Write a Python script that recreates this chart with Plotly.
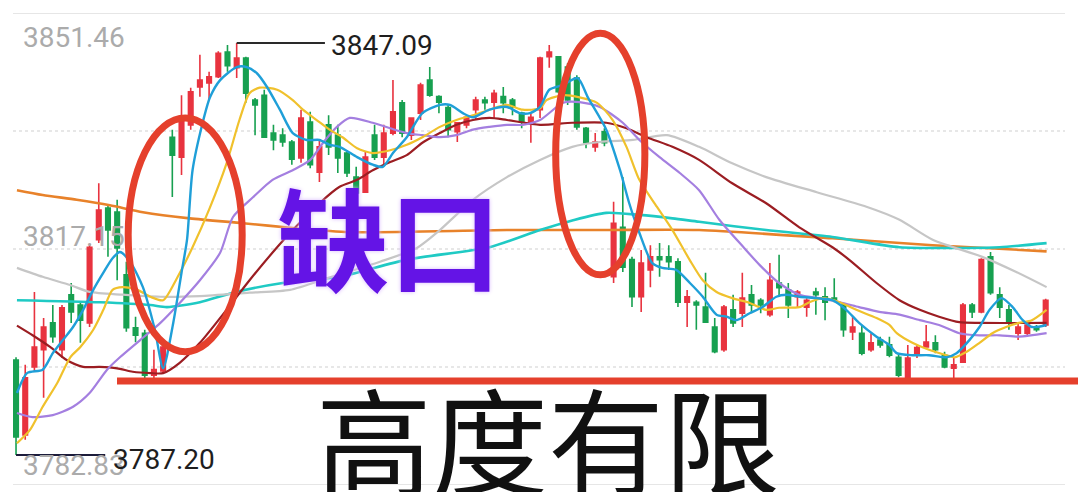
import plotly.graph_objects as go

# ---------------- data ----------------
idx = list(range(113))
opens = [3801.0,3790.1,3800.0,3802.5,3806.4,3802.5,3810.5,3809.0,3806.4,3818.5,
         3823.1,3822.5,3813.4,3805.7,3804.9,3798.8,3799.4,3833.4,3830.5,3835.2,
         3840.7,3841.3,3842.2,3845.8,3843.5,3844.9,3838.8,3839.5,3834.0,3833.7,
         3832.7,3830.4,3835.6,3828.3,3835.2,3833.7,3831.1,3827.6,3825.4,3833.7,
         3830.5,3834.0,3838.4,3833.7,3836.9,3841.7,3839.3,3837.7,3834.2,3835.2,
         3837.4,3838.8,3838.5,3839.3,3838.8,3836.9,3835.6,3837.4,3845.1,3845.1,
         3843.6,3842.0,3834.7,3832.0,3834.2,3813.1,3820.3,3815.6,3810.2,3814.1,
         3816.0,3816.0,3815.3,3809.4,3809.4,3808.7,3805.8,3802.5,3808.3,3807.8,
         3810.5,3809.7,3807.6,3812.2,3811.2,3810.2,3808.7,3810.9,3810.2,3810.0,
         3809.0,3805.1,3804.9,3802.5,3803.9,3803.2,3801.4,3798.5,3801.7,3802.9,
         3803.5,3801.7,3799.8,3800.7,3809.0,3808.0,3816.0,3810.5,3808.3,3804.9,
         3804.9,3805.8,3806.1]
closes = [3789.8,3798.4,3802.9,3805.8,3804.4,3808.6,3808.0,3806.8,3817.4,3822.8,
          3819.9,3817.3,3805.7,3804.6,3798.8,3799.6,3802.9,3830.8,3835.9,3840.0,
          3841.7,3842.2,3845.6,3843.8,3844.9,3839.8,3838.1,3833.4,3833.0,3832.7,
          3830.2,3836.2,3829.4,3832.0,3832.0,3830.4,3828.2,3825.3,3830.5,3830.5,
          3834.0,3837.1,3834.0,3836.2,3841.0,3839.5,3838.5,3834.5,3835.5,3836.3,
          3838.8,3838.4,3839.8,3838.4,3837.8,3835.6,3836.3,3844.9,3845.8,3840.0,
          3838.8,3834.9,3832.6,3832.7,3832.6,3820.9,3814.5,3810.2,3815.1,3816.0,
          3815.6,3815.3,3809.4,3810.2,3809.0,3806.5,3802.2,3808.7,3806.4,3810.0,
          3809.0,3809.0,3812.6,3811.5,3809.0,3810.9,3809.7,3810.5,3809.4,3809.7,
          3805.4,3805.8,3802.0,3803.5,3803.2,3801.7,3798.8,3801.3,3802.8,3803.6,
          3802.5,3800.0,3800.3,3809.0,3808.0,3815.6,3810.8,3808.7,3806.5,3805.8,
          3806.1,3805.4,3809.7]
highs = [3801.4,3800.3,3810.9,3807.1,3809.0,3809.0,3812.2,3809.4,3817.9,3826.7,
         3823.5,3824.3,3815.3,3807.3,3805.4,3802.5,3803.5,3834.5,3839.5,3840.6,
         3845.4,3842.9,3845.9,3846.8,3847.09,3845.1,3839.1,3840.3,3835.2,3834.7,
         3833.0,3837.4,3837.1,3833.1,3836.6,3835.2,3831.5,3829.1,3831.3,3835.2,
         3835.2,3841.7,3838.8,3836.3,3841.3,3843.6,3839.5,3838.1,3835.6,3836.6,
         3839.3,3839.3,3840.3,3840.7,3839.1,3837.1,3836.9,3845.1,3846.8,3845.1,
         3844.2,3842.4,3834.9,3834.0,3834.7,3824.0,3827.6,3816.0,3817.0,3817.7,
         3818.0,3817.7,3815.8,3811.2,3809.7,3813.7,3807.1,3809.0,3810.5,3813.7,
         3811.9,3810.0,3815.1,3816.3,3812.2,3811.2,3810.0,3811.5,3811.6,3812.9,
         3809.3,3807.3,3806.1,3804.9,3804.4,3804.4,3802.0,3803.2,3803.2,3806.1,
         3804.6,3802.2,3801.4,3809.3,3809.3,3815.8,3816.7,3811.6,3809.0,3806.4,
         3806.4,3806.1,3809.9]
lows = [3787.2,3789.4,3799.3,3795.5,3803.5,3801.3,3806.4,3803.5,3805.8,3818.0,
        3816.0,3812.6,3805.1,3803.6,3798.1,3798.4,3799.0,3824.7,3827.9,3834.5,
        3839.3,3838.8,3842.0,3842.9,3842.0,3838.4,3833.7,3833.3,3831.5,3832.0,
        3829.4,3829.7,3828.9,3826.9,3830.8,3828.2,3827.6,3824.3,3825.3,3830.1,
        3829.1,3833.7,3833.4,3833.0,3835.9,3839.3,3836.9,3833.4,3832.7,3834.7,
        3835.9,3837.4,3836.2,3836.9,3836.6,3834.7,3832.6,3836.2,3843.5,3839.8,
        3838.1,3834.5,3831.8,3831.3,3832.1,3812.2,3813.8,3808.7,3808.0,3811.6,
        3813.1,3814.1,3808.7,3805.8,3805.4,3806.4,3802.0,3802.2,3805.8,3805.8,
        3807.8,3807.8,3807.3,3810.2,3807.1,3808.7,3807.3,3807.6,3806.8,3809.4,
        3804.4,3803.9,3801.7,3802.2,3802.8,3801.4,3798.5,3798.1,3801.3,3802.8,
        3802.0,3799.8,3798.1,3800.6,3807.1,3807.8,3810.5,3807.1,3805.4,3803.9,
        3804.4,3805.1,3805.8]

ma5_x = [0.1,1.2,2.9,4.0,5.1,6.2,7.3,8.4,9.5,10.5,11.3,12.4,13.8,15.1,16.0,17.1,18.0,18.6,19.2,20.3,
         21.1,22.2,24.0,25.1,26.2,27.3,28.7,30.1,31.6,33.0,34.1,35.2,37.1,38.8,39.9,41.0,42.5,44.2,46.1,47.2,
         48.6,49.7,51.5,53.4,54.8,55.9,57.0,58.0,59.5,61.1,62.2,64.2,65.7,66.7,67.8,69.2,70.3,71.8,73.3,74.7,
         76.2,77.3,78.4,79.8,81.2,82.7,83.8,85.2,87.1,88.8,90.3,91.7,93.6,95.0,95.8,97.5,99.3,101.2,102.3,103.7,
         104.8,105.9,107.2,108.4,109.5,110.5,112.1]
ma5_y = [3796.2,3799.1,3799.6,3802.0,3803.9,3805.8,3808.3,3811.2,3813.7,3815.8,3816.7,3815.3,3811.6,3805.4,3799.8,3806.4,3813.7,3818.5,3828.6,3835.5,
         3839.2,3841.7,3843.6,3843.6,3842.7,3840.7,3837.4,3834.0,3833.0,3833.0,3832.3,3832.0,3830.5,3829.4,3829.1,3831.1,3833.4,3836.9,3838.1,3838.1,
         3836.9,3836.3,3837.4,3837.8,3836.9,3836.9,3837.8,3840.3,3841.0,3842.0,3839.2,3834.5,3828.6,3823.8,3819.5,3815.1,3814.4,3814.1,3812.2,3810.2,
         3807.6,3807.3,3806.8,3807.8,3808.7,3810.2,3810.5,3810.2,3810.0,3809.7,3808.3,3806.4,3804.4,3803.2,3802.0,3801.7,3801.7,3801.4,3802.0,3803.9,
         3805.8,3808.3,3810.0,3808.7,3806.8,3805.8,3806.1]

ma10_x = [0.1,1.5,2.9,4.5,5.9,7.0,8.4,9.5,10.5,11.6,13.2,14.6,16.0,17.5,19.2,21.1,22.9,24.3,25.4,26.5,
          28.4,30.1,31.2,32.7,34.1,35.5,37.1,38.8,40.7,42.5,44.2,46.1,47.9,49.7,51.5,53.4,55.1,57.0,57.7,59.5,
          61.3,63.2,64.9,66.4,67.8,69.7,71.4,73.3,74.7,76.2,77.9,79.8,81.6,83.0,85.2,86.3,87.7,89.6,91.4,93.6,
          95.0,95.8,97.5,99.3,101.2,102.1,103.4,104.8,106.2,107.7,109.1,110.5,112.1]
ma10_y = [3788.9,3790.8,3794.2,3797.7,3801.4,3802.9,3805.4,3808.3,3811.2,3811.6,3811.2,3810.2,3809.7,3812.9,3817.4,3823.2,3829.6,3835.9,3839.8,3840.6,
          3840.3,3838.8,3837.4,3835.9,3834.5,3833.4,3831.8,3831.1,3831.5,3832.3,3833.4,3834.9,3835.9,3836.6,3837.4,3838.1,3837.4,3837.6,3838.8,3839.5,
          3839.2,3838.4,3835.9,3832.0,3827.2,3823.3,3819.9,3815.5,3812.6,3810.9,3810.0,3809.3,3808.3,3808.6,3808.7,3809.4,3810.0,3809.4,3808.3,3807.1,
          3806.1,3804.9,3803.5,3802.5,3801.7,3801.4,3802.2,3803.5,3804.9,3805.8,3806.4,3806.8,3808.3]

ma20_x = [0.1,1.8,4.0,6.2,8.0,9.9,11.3,13.5,15.7,17.8,20.0,22.2,23.6,25.8,27.9,30.1,32.0,33.4,34.9,36.3,
          38.8,40.7,42.5,44.2,46.1,47.9,49.7,51.5,53.4,55.1,57.0,59.5,61.3,63.5,66.0,67.8,70.0,72.2,74.3,76.5,
          79.2,80.9,83.0,85.2,87.4,89.6,91.7,93.9,96.1,98.3,100.4,102.6,104.8,107.0,109.1,112.1]
ma20_y = [3793.3,3792.7,3793.0,3794.2,3796.2,3799.6,3801.4,3803.9,3806.4,3809.3,3812.6,3816.6,3821.8,3824.7,3827.2,3828.6,3830.1,3832.6,3834.9,3836.2,
          3835.5,3834.7,3834.0,3833.7,3833.4,3833.7,3834.5,3834.9,3835.2,3835.2,3835.9,3838.4,3838.5,3837.8,3835.5,3833.0,3830.5,3828.2,3825.7,3821.4,
          3817.3,3814.8,3812.2,3810.5,3810.0,3809.4,3808.7,3808.0,3807.6,3806.8,3806.1,3804.9,3804.6,3804.6,3804.4,3804.9]

ma30_x = [0.1,1.8,3.7,5.5,7.3,9.1,11.0,12.7,14.6,16.0,17.8,20.0,22.9,25.4,28.4,30.1,33.0,35.2,37.1,38.8,
          40.7,42.5,44.2,46.1,47.9,49.7,51.5,53.4,57.0,60.5,64.2,66.4,68.6,71.4,74.3,77.9,81.6,85.2,88.8,90.7,
          93.6,96.1,98.3,100.4,102.6,104.8,112.1]
ma30_y = [3806.0,3804.6,3802.9,3801.0,3800.0,3800.0,3799.8,3799.3,3799.1,3799.1,3800.6,3803.5,3808.3,3812.6,3817.4,3819.9,3823.8,3826.2,3827.2,3828.6,
          3829.8,3830.8,3832.6,3834.0,3835.2,3835.9,3836.2,3835.9,3835.2,3835.5,3835.5,3834.7,3833.4,3832.0,3830.1,3826.7,3823.8,3820.3,3817.4,3815.5,
          3812.2,3809.7,3808.3,3807.3,3806.5,3806.4,3806.4]

ma60_x = [0.1,2.9,5.9,8.0,11.6,15.7,20.0,25.4,29.8,34.1,39.6,43.6,46.1,49.7,53.4,57.0,60.5,63.5,67.1,70.8,
          74.3,77.9,81.6,87.1,92.5,96.1,99.7,105.1,108.8,112.1]
ma60_y = [3814.4,3813.1,3811.9,3810.9,3810.5,3810.2,3810.3,3810.8,3811.2,3813.0,3815.3,3817.3,3819.9,3824.3,3827.6,3830.1,3832.0,3832.7,3833.0,3833.7,
          3832.0,3829.6,3827.6,3825.4,3823.3,3821.4,3818.5,3816.0,3813.8,3811.6]

ma120_x = [0.1,9.1,14.6,16.4,20.0,23.6,29.0,35.2,42.5,51.5,57.0,60.5,64.2,67.8,71.4,74.3,81.6,88.8,96.1,103.4,107.0,112.1]
ma120_y = [3809.7,3809.4,3809.0,3808.7,3809.4,3810.8,3812.2,3813.1,3815.6,3817.4,3819.9,3821.3,3822.4,3822.1,3821.6,3821.1,3819.9,3818.9,3817.4,3817.3,3817.4,3818.0]

ma250_x = [0.1,2.9,6.6,10.2,13.8,18.9,24.7,30.1,36.3,53.4,64.2,74.3,88.8,99.7,112.1]
ma250_y = [3825.7,3825.0,3824.3,3823.5,3822.5,3821.6,3820.9,3820.2,3819.6,3819.9,3819.9,3819.9,3818.7,3817.7,3816.8]

axis_labels = ["3851.46", "3817.15", "3782.83"]
max_label, max_idx, max_val = "3847.09", 24, 3847.09
min_label, min_idx, min_val = "3787.20", 0, 3787.20
y_top, y_bot = 3851.46, 3782.83

RED = "#e8333f"
GREEN = "#17a050"

fig = go.Figure()
fig.add_trace(go.Candlestick(
    x=idx, open=opens, high=highs, low=lows, close=closes,
    increasing=dict(line=dict(color=RED, width=1.6), fillcolor=RED),
    decreasing=dict(line=dict(color=GREEN, width=1.6), fillcolor=GREEN),
    whiskerwidth=0, hoverinfo="skip", showlegend=False))

def ma(xs, ys, color, width):
    fig.add_trace(go.Scatter(x=xs, y=ys, mode="lines",
                             line=dict(color=color, width=width, shape="spline", smoothing=0.7),
                             hoverinfo="skip", showlegend=False))

ma(ma250_x, ma250_y, "#e8822a", 2.6)
ma(ma120_x, ma120_y, "#1fcac4", 2.6)
ma(ma60_x, ma60_y, "#c6c6c6", 2.2)
ma(ma30_x, ma30_y, "#9b1d22", 2.2)
ma(ma20_x, ma20_y, "#a47fe0", 2.2)
ma(ma10_x, ma10_y, "#f0c12c", 2.2)
ma(ma5_x, ma5_y, "#1f9fd8", 2.4)

L, R, T, B = 13, 13, 13, 7
W, H = 1078, 492
pw, ph = W - L - R, H - T - B

def px(xp):
    return (xp - L) / pw

def py(yp):
    return (H - B - yp) / ph

shapes = []
# grid lines
step = (y_top - y_bot) / 4
for k in range(5):
    yv = y_bot + k * step
    solid = k in (0, 4)
    shapes.append(dict(type="line", xref="paper", yref="y", x0=0, x1=1, y0=yv, y1=yv,
                       line=dict(color="#e6e6e6" if solid else "#cfcfcf",
                                 width=2 if solid else 1, dash="solid" if solid else "dot"),
                       layer="below"))
# max / min marker lines
shapes.append(dict(type="line", xref="x", yref="y", x0=max_idx, x1=33.6, y0=max_val, y1=max_val,
                   line=dict(color="#2a2a2a", width=2)))
shapes.append(dict(type="line", xref="x", yref="y", x0=min_idx, x1=9.7, y0=min_val, y1=min_val,
                   line=dict(color="#1c1c3a", width=2)))
# red ellipses
shapes.append(dict(type="circle", xref="x", yref="y", x0=12.2, x1=24.6, y0=3802.2, y1=3836.2,
                   line=dict(color="#e5402c", width=7)))
shapes.append(dict(type="circle", xref="x", yref="y", x0=58.7, x1=68.4, y0=3813.4, y1=3848.5,
                   line=dict(color="#e5402c", width=7)))
# red support line
shapes.append(dict(type="line", xref="paper", yref="paper", x0=px(117), x1=px(1080),
                   y0=py(381), y1=py(381), line=dict(color="#e5402c", width=7)))

ann = []
lab_font = dict(family="Roboto, DejaVu Sans", size=28, color="#ababab")
for lab, yc in zip(axis_labels, [38, 237, 465]):
    ann.append(dict(text=lab, xref="paper", yref="paper", x=px(21), y=py(yc),
                    xanchor="left", yanchor="middle", showarrow=False, font=lab_font))
ann.append(dict(text=max_label, xref="paper", yref="paper", x=px(329), y=py(45),
                xanchor="left", yanchor="middle", showarrow=False,
                font=dict(family="Roboto, DejaVu Sans", size=28, color="#1e1e1e")))
ann.append(dict(text=min_label, xref="paper", yref="paper", x=px(111), y=py(459),
                xanchor="left", yanchor="middle", showarrow=False,
                font=dict(family="Roboto, DejaVu Sans", size=28, color="#1e1e1e")))
ann.append(dict(text="<b>缺口</b>", xref="paper", yref="paper", x=px(389), y=py(235),
                xanchor="center", yanchor="middle", showarrow=False,
                font=dict(family="Noto Sans CJK SC", size=112, color="#6414e6",
                          shadow="0px 0px 4px #d8b8ff")))
ann.append(dict(text="高度有限", xref="paper", yref="paper", x=px(548), y=py(436),
                xanchor="center", yanchor="middle", showarrow=False,
                font=dict(family="Noto Sans CJK SC", size=116, color="#111111")))

fig.update_layout(
    width=W, height=H, margin=dict(l=L, r=R, t=T, b=B),
    paper_bgcolor="white", plot_bgcolor="white",
    shapes=shapes, annotations=ann, showlegend=False,
    xaxis=dict(range=[-0.33, 114.1], visible=False, rangeslider=dict(visible=False), fixedrange=True),
    yaxis=dict(range=[y_bot, y_top], visible=False, fixedrange=True),
)
fig.write_html("out.html", config={"displayModeBar": False, "staticPlot": True},
               post_script="document.body.style.margin='0px';document.body.style.overflow='hidden';")
